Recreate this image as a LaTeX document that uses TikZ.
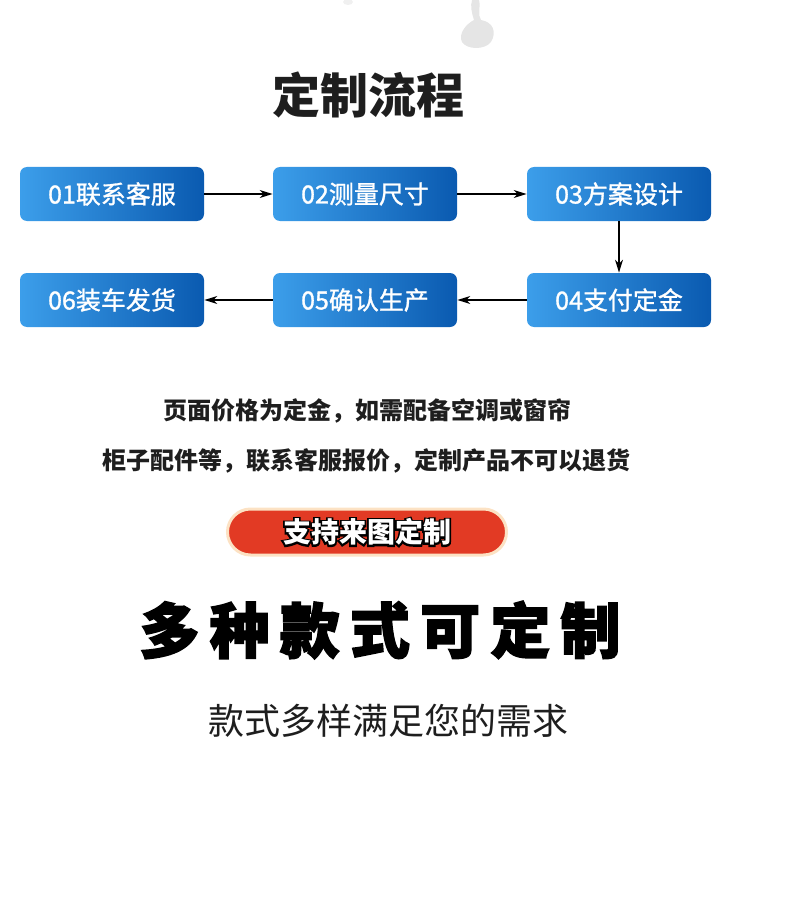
\documentclass[tikz,border=0pt]{standalone}
\usepackage{fontspec}
\setmainfont{Noto Sans CJK SC}
\newfontfamily\heavy[FakeBold=2.5,LetterSpace=17]{Noto Sans CJK SC}
\newfontfamily\rimfont[FakeBold=12]{Noto Sans CJK SC}
\newfontfamily\stepfont[FakeBold=1.2]{Noto Sans CJK SC}
\usetikzlibrary{arrows.meta}
\definecolor{boxlight}{RGB}{60,158,234}
\definecolor{boxdark}{RGB}{10,90,176}
\definecolor{pillred}{RGB}{226,58,36}
\definecolor{pillrim}{RGB}{252,226,196}
\definecolor{txtgray}{RGB}{30,30,30}
\newcommand{\rimtext}[1]{\rlap{\color{black}\rimfont\bfseries #1}#1}
\tikzset{every picture/.style={line width=0.8pt}}
\tikzset{stepbox/.style={rounded corners=7pt, left color=boxlight, right color=boxdark,
    minimum width=184pt, minimum height=54pt, inner sep=0pt, text=white,
    font=\stepfont\fontsize{25}{25}\selectfont},
  flow/.style={-{Stealth[length=13pt,width=8pt]}, line width=1.2pt, black}}

\begin{document}
\begin{tikzpicture}[x=1pt,y=1pt,yscale=-1]
\useasboundingbox (0,0) rectangle (790,912);

%Shape: grey blot at top
\fill[gray!20] (472,0) -- (479,0) .. controls (481,8) and (477,14) .. (481,20) .. controls (493,22) and (497,32) .. (491,42) .. controls (485,50) and (467,50) .. (462,42) .. controls (458,34) and (466,24) .. (474,20) .. controls (472,14) and (470,6) .. (472,0) -- cycle;
\fill[gray!12] (348,2) ellipse (5 and 3);

% Title
\node[text=txtgray, font=\fontsize{48}{48}\selectfont\bfseries] (title) at (368,95) {定制流程};

% Steps
\node[stepbox] (s01) at (112,194) {01联系客服};
\node[stepbox] (s02) at (365,194) {02测量尺寸};
\node[stepbox] (s03) at (619,194) {03方案设计};
\node[stepbox] (s04) at (619,300) {04支付定金};
\node[stepbox] (s05) at (365,300) {05确认生产};
\node[stepbox] (s06) at (112,300) {06装车发货};

\draw[flow] (s01) -- (s02);
\draw[flow] (s02) -- (s03);
\draw[flow] (s03) -- (s04);
\draw[flow] (s04) -- (s05);
\draw[flow] (s05) -- (s06);

% Notes
\node[text=txtgray, font=\fontsize{24}{24}\selectfont\bfseries] (note1) at (367,411) {页面价格为定金，如需配备空调或窗帘};
\node[text=txtgray, font=\fontsize{24}{24}\selectfont\bfseries] (note2) at (366,461) {柜子配件等，联系客服报价，定制产品不可以退货};

% Red pill
\node[fill=pillred, draw=pillrim, line width=3pt, rounded corners=23pt,
  minimum width=279pt, minimum height=46pt, text=white,
  font=\fontsize{28}{28}\selectfont\bfseries] (pill) at (367,532) {\rimtext{支持来图定制}};

% Slogan
\node[text=black, font=\heavy\bfseries\fontsize{60}{60}\selectfont] (slogan) at (380,630) {多种款式可定制};
\node[text=txtgray, font=\fontsize{36}{36}\selectfont] (sub) at (388,721) {款式多样满足您的需求};
\end{tikzpicture}
\end{document}
